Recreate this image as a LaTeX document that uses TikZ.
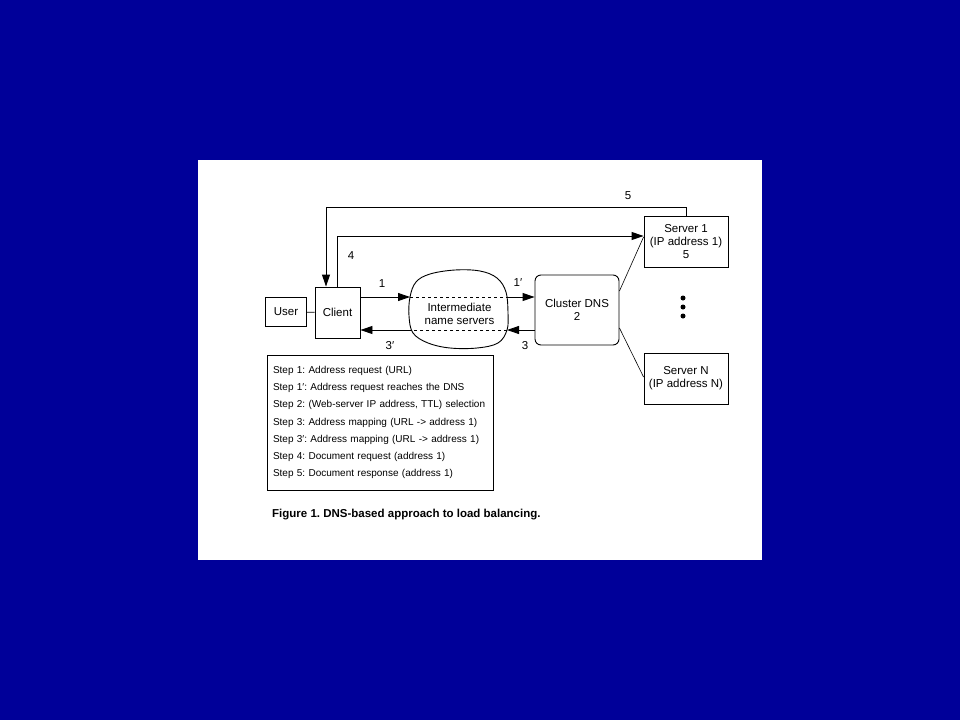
\documentclass[tikz,border=0pt]{standalone}
\usepackage{fontspec}
\setmainfont{Liberation Sans}
\usepackage{tikz}
\usetikzlibrary{arrows.meta, positioning}
\definecolor{slideblue}{RGB}{0,0,153}
\frenchspacing

\begin{document}
\begin{tikzpicture}[
  x=1pt, y=-1pt,
  box/.style={rectangle, draw, line width=0.9pt, inner sep=0pt, align=center, font=\fontsize{11.5}{13}\selectfont},
  lbl/.style={font=\fontsize{11.5}{13}\selectfont, inner sep=0pt},
  arr/.style={-{Triangle[length=12pt, width=8pt]}, line width=0.9pt},
  link/.style={line width=0.6pt},
]
  % Slide and paper
  \fill[slideblue] (0,0) rectangle (960,720);
  \fill[white] (198,160) rectangle (762,560);
  \useasboundingbox (0,0) rectangle (960,720);

  % Hosts
  \node[box, minimum width=41pt, minimum height=29pt] (user) at (286,312) {User};
  \node[box, minimum width=45pt, minimum height=51pt] (client) at (337.5,312.5) {Client};
  \node[box, rounded corners=6pt, minimum width=84pt, minimum height=70pt] (dns) at (577,310) {Cluster DNS\\2};
  \node[box, minimum width=84pt, minimum height=51pt] (srv1) at (686,241.5) {Server 1\\(IP address 1)\\5};
  \node[box, minimum width=84pt, minimum height=51pt] (srvN) at (686,378.5) {Server N\\(IP address N)};

  % Dots between servers
  \foreach \y in {298,307,316} {
    \fill (683,\y) circle (2.5pt);
  }

  % Intermediate name servers
  \node[lbl, align=center] (ns) at (459.5,314) {Intermediate\\name servers};
  \draw[line width=0.9pt] plot[smooth cycle, tension=0.6] coordinates {(410,297) (416,282) (430,274) (455,270) (480,271) (497,278) (506,292) (508,313) (507,330) (498,343) (477,348) (450,348) (428,343) (413,333) (409,316)};
  \coordinate (nsW1) at (410,297);
  \coordinate (nsE1) at (507.5,297);
  \coordinate (nsW3) at (410.5,330);
  \coordinate (nsE3) at (507,330);

  % Arrows
  \draw[line width=0.9pt] (user) -- (client);
  \draw[arr] (client.east |- nsW1) -- (nsW1);
  \draw[dashed, line width=0.9pt] (nsW1) -- (nsE1);
  \draw[arr] (nsE1) -- (dns.west |- nsE1);
  \draw[arr] (dns.west |- nsE3) -- (nsE3);
  \draw[dashed, line width=0.9pt] (nsE3) -- (nsW3);
  \draw[arr] (nsW3) -- (client.east |- nsW3);

  % Document request and response
  \draw[arr] (client.north) |- ([yshift=5.5pt]srv1.west);
  \draw[arr] (srv1.north) -- (srv1.north |- 0,207) -| ([xshift=-11.5pt]client.north);

  % DNS to servers
  \draw[link] ([yshift=19pt]dns.east) -- ([yshift=4.5pt]srv1.west);
  \draw[link] ([yshift=-18pt]dns.east) -- ([yshift=1.5pt]srvN.west);

  % Step numbers
  \node[lbl] (n1) at (382,284) {1};
  \node[lbl] (n1p) at (518,283) {1′};
  \node[lbl] (n3p) at (390,346) {3′};
  \node[lbl] (n3) at (525,346) {3};
  \node[lbl] (n4) at (351,256) {4};
  \node[lbl] (n5) at (628,196) {5};

  % Legend of steps
  \node[rectangle, draw, line width=0.9pt, text width=214pt, inner xsep=6pt, minimum height=135pt, align=left, font=\fontsize{10}{17.2}\selectfont] (steps) at (380,422.5) {%
    Step 1: Address request (URL)\\
    Step 1′: Address request reaches the DNS\\
    Step 2: (Web-server IP address, TTL) selection\\
    Step 3: Address mapping (URL -> address 1)\\
    Step 3′: Address mapping (URL -> address 1)\\
    Step 4: Document request (address 1)\\
    Step 5: Document response (address 1)};

  % Caption
  \node[anchor=west, inner sep=0pt, font=\bfseries\fontsize{11.5}{13}\selectfont] (caption) at (272,515) {Figure 1. DNS-based approach to load balancing.};
\end{tikzpicture}
\end{document}
